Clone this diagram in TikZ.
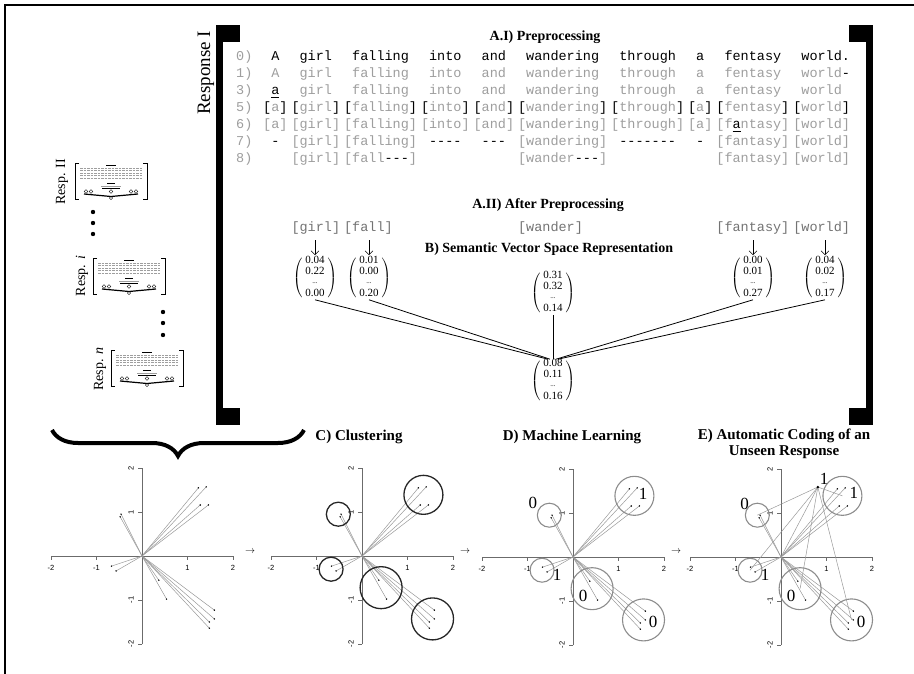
\documentclass[tikz,border=0pt]{standalone}
\usepackage{fontspec}
\setmainfont{Liberation Serif}
\setsansfont{Liberation Sans}
\setmonofont{Liberation Mono}
\usepackage{amsmath}
\usetikzlibrary{arrows.meta, positioning, decorations.pathreplacing}

\definecolor{gry}{gray}{0.62}
\definecolor{axgry}{gray}{0.42}
\definecolor{lngry}{gray}{0.6}
\definecolor{clgry}{gray}{0.55}

\newcommand{\K}[1]{\textcolor{black}{#1}}
\newcommand{\bk}[1]{\K{[}#1\K{]}}
\newcommand{\vvec}[3]{$\left(\begin{array}{@{\;}c@{\;}}\textrm{#1}\\\textrm{#2}\\\raisebox{2.5pt}{\textrm{\scriptsize...}}\\\textrm{#3}\end{array}\right)$}
% column starts of the tokens
\def\colx{{263,291.3,343.9,420.8,473.4,517.9,611,687.9,716.2,793.1}}
% word vectors of the responses (data units)
\newcommand{\ptlist}{1.24/1.55, 1.41/1.57, 1.28/1.16, 1.46/1.16, -0.46/0.95, -0.48/0.89, -0.67/-0.23, -0.57/-0.34, 0.37/-0.55, 0.54/-0.98, 1.59/-1.23, 1.59/-1.43, 1.48/-1.50, 1.48/-1.64}
% clusters: centre / radius
\newcommand{\cllist}{1.35/1.39/19.5, -0.52/0.95/12, -0.68/-0.30/12, 0.42/-0.72/21, 1.55/-1.43/21}

\begin{document}
\begin{tikzpicture}[x=1pt, y=-1pt,
    word/.style={font=\ttfamily\fontsize{13.5}{13.5}\selectfont, anchor=base west, inner sep=0pt, text=gry},
    wordin/.style={word, xshift=8.1pt},
    ttl/.style={font=\bfseries\fontsize{14}{16}\selectfont, inner sep=0pt},
    ttlb/.style={font=\bfseries\fontsize{15}{16}\selectfont, inner sep=0pt, align=center},
    vec/.style={font=\fontsize{11}{10.8}\selectfont, inner sep=0pt},
    tokarrow/.style={-{Straight Barb[length=4pt,width=8pt]}, line width=0.6pt, shorten <=5pt, shorten >=1pt},
    vline/.style={line width=0.8pt},
    axline/.style={axgry, line width=0.8pt},
    vecl/.style={lngry, line width=0.5pt},
    ticklab/.style={font=\sffamily\fontsize{7.5}{8}\selectfont, inner sep=0pt},
    clus/.style={line width=1.3pt, black!85},
    clusg/.style={line width=1.1pt, clgry},
    codelab/.style={font=\fontsize{17}{17}\selectfont, inner sep=0pt},
    resplab/.style={font=\fontsize{14}{14}\selectfont, rotate=90, inner sep=0pt},
    thumb/.pic={
      \draw[line width=0.9pt] (4,0) -- (0,0) -- (0,36) -- (4,36);
      \draw[line width=0.9pt] (68,0) -- (72,0) -- (72,36) -- (68,36);
      \draw[line width=0.5pt] (31,2) -- (41,2);
      \foreach \ry in {5,7.5,10,12.5,15}
        \draw[gry, line width=0.6pt, dash pattern=on 2.5pt off 1pt] (5,\ry) -- (67,\ry);
      \draw[line width=0.5pt] (32,20) -- (40,20);
      \draw[gry, line width=0.4pt] (26,23) -- (46,23);
      \draw[line width=0.5pt] (27,25.5) -- (45,25.5);
      \foreach \vx in {11,16,56,61} \draw[line width=0.4pt] (\vx,28.5) circle (1.8);
      \draw[line width=0.4pt] (36,28.5) circle (1.8);
      \draw[line width=1.2pt] (9,31) -- (36,33.5) -- (63,31);
      \draw[line width=0.4pt] (36,35) circle (1.6);
    },
    plotaxes/.pic={
      \draw[axline] (-2,0) -- (2,0);
      \draw[axline] (0,-2) -- (0,2);
      \foreach \tv in {-2,-1,1,2}{
        \draw[axline] (\tv,0) -- ++(0,-4pt);
        \node[ticklab] at ([yshift=-12pt]\tv,0) {\tv};
        \draw[axline] (0,\tv) -- ++(-4pt,0);
        \node[ticklab, rotate=90] at ([xshift=-11pt]0,\tv) {\tv};
      }
    }
]
\useasboundingbox (0,0) rectangle (914,674);
\draw[line width=2pt] (5,674) -- (5,5) -- (914,5);

% Response I bracket
\fill (216,25) rectangle (240,42);
\fill (216,25) rectangle (223,425);
\fill (216,408) rectangle (240,425);
\fill (849,25) rectangle (873,42);
\fill (866,25) rectangle (873,425);
\fill (849,408) rectangle (873,425);
\node[font=\fontsize{19}{19}\selectfont, rotate=90, inner sep=0pt] (respI) at (206,73) {Response I};

% A.I) preprocessing steps
\node[ttl] (tA1) at (545,37) {A.I) Preprocessing};
\foreach \lab/\yy in {0/61,1/78,3/95,5/112,6/129,7/146,8/163}
  \node[word] (lab\lab) at (236,\yy) {\lab)};
\foreach \tk [count=\kk] in {A,girl,falling,into,and,wandering,through,a,fentasy,world.}{
  \pgfmathsetmacro{\cx}{\colx[\kk-1]}
  \node[wordin, text=black] (r0-\kk) at (\cx,61) {\tk};
}
\foreach \tk [count=\kk] in {A,girl,falling,into,and,wandering,through,a,fentasy,world\K{-}}{
  \pgfmathsetmacro{\cx}{\colx[\kk-1]}
  \node[wordin] (r1-\kk) at (\cx,78) {\tk};
}
\foreach \tk [count=\kk] in {\K{\underline{a}},girl,falling,into,and,wandering,through,a,fentasy,world}{
  \pgfmathsetmacro{\cx}{\colx[\kk-1]}
  \node[wordin] (r3-\kk) at (\cx,95) {\tk};
}
\foreach \tk [count=\kk] in {\bk{a},\bk{girl},\bk{falling},\bk{into},\bk{and},\bk{wandering},\bk{through},\bk{a},\bk{fentasy},\bk{world}}{
  \pgfmathsetmacro{\cx}{\colx[\kk-1]}
  \node[word] (r5-\kk) at (\cx,112) {\tk};
}
\foreach \tk [count=\kk] in {{[a]},{[girl]},{[falling]},{[into]},{[and]},{[wandering]},{[through]},{[a]},{[f\K{\underline{a}}ntasy]},{[world]}}{
  \pgfmathsetmacro{\cx}{\colx[\kk-1]}
  \node[word] (r6-\kk) at (\cx,129) {\tk};
}
\foreach \kk/\tk in {1/-,4/----,5/---,7/-------,8/-}{
  \pgfmathsetmacro{\cx}{\colx[\kk-1]}
  \node[wordin, text=black] (r7-\kk) at (\cx,146) {\tk};
}
\foreach \kk/\tk in {2/{[girl]},3/{[falling]},6/{[wandering]},9/{[fantasy]},10/{[world]}}{
  \pgfmathsetmacro{\cx}{\colx[\kk-1]}
  \node[word] (r7-\kk) at (\cx,146) {\tk};
}
\foreach \kk/\tk in {2/{[girl]},3/{[fall\K{---}]},6/{[wander\K{---}]},9/{[fantasy]},10/{[world]}}{
  \pgfmathsetmacro{\cx}{\colx[\kk-1]}
  \node[word] (r8-\kk) at (\cx,163) {\tk};
}

% A.II) after preprocessing
\node[ttl] (tA2) at (548,205) {A.II) After Preprocessing};
\foreach \kk/\tk in {2/{[girl]},3/{[fall]},6/{[wander]},9/{[fantasy]},10/{[world]}}{
  \pgfmathsetmacro{\cx}{\colx[\kk-1]}
  \node[word, text=black!55] (a\kk) at (\cx,232) {\tk};
}

% B) semantic vector space
\node[ttl] (tB) at (549,249) {B) Semantic Vector Space Representation};
\node[vec] (v1) at (315,278) {\vvec{0.04}{0.22}{0.00}};
\node[vec] (v2) at (369,278) {\vvec{0.01}{0.00}{0.20}};
\node[vec] (v3) at (553,293) {\vvec{0.31}{0.32}{0.14}};
\node[vec] (v4) at (753,278) {\vvec{0.00}{0.01}{0.27}};
\node[vec] (v5) at (825,278) {\vvec{0.04}{0.02}{0.17}};
\node[vec] (vr) at (553,381) {\vvec{0.08}{0.11}{0.16}};
\foreach \kk/\vv in {2/1,3/2,9/4,10/5}
  \draw[tokarrow] (a\kk.south -| v\vv.north) -- (v\vv.north);
\foreach \vv/\dx in {1/-5,2/-3,3/0,4/3,5/5}
  \draw[vline] (v\vv.south) -- ([xshift=\dx pt]vr.north);

% other responses
\pic at (75,163) {thumb};
\pic at (93,258) {thumb};
\pic at (111,350) {thumb};
\node[resplab] (resp2) at (62,182) {Resp. II};
\node[resplab] (respi) at (82,276) {Resp. \textit{i}};
\node[resplab] (respn) at (100,369) {Resp. \textit{n}};
\foreach \ry in {212,223,234} \fill (93,\ry) circle (2.2);
\foreach \ry in {312,323,335} \fill (163,\ry) circle (2.2);
\draw[decorate, decoration={brace, amplitude=26pt, mirror}, line width=4pt] (52,430) -- (304,430);

% titles of the plots
\node[ttlb] (tC) at (359,437) {C) Clustering};
\node[ttlb] (tD) at (572,437) {D) Machine Learning};
\node[ttlb] (tE) at (784,444) {E) Automatic Coding of an\\Unseen Response};
\node[font=\fontsize{10}{10}\selectfont] (arr1) at (250,552) {$\rightarrow$};
\node[font=\fontsize{10}{10}\selectfont] (arr2) at (465,552) {$\rightarrow$};
\node[font=\fontsize{10}{10}\selectfont] (arr3) at (676,552) {$\rightarrow$};

% plot of the responses
\begin{scope}[shift={(142,556)}, x=45.5pt, y=44pt]
  \pic {plotaxes};
  \foreach \px/\py in \ptlist {\draw[vecl] (0,0) -- (\px,\py); \fill (\px,\py) circle[radius=0.8pt];}
\end{scope}

% C) clustering
\begin{scope}[shift={(362,556)}, x=45.5pt, y=44pt]
  \pic {plotaxes};
  \foreach \px/\py in \ptlist {\draw[vecl] (0,0) -- (\px,\py); \fill (\px,\py) circle[radius=0.8pt];}
  \foreach \cx/\cy/\crad in \cllist \draw[clus] (\cx,\cy) circle[radius=\crad pt];
\end{scope}

% D) machine learning
\begin{scope}[shift={(573,557)}, x=45.5pt, y=44pt]
  \pic {plotaxes};
  \foreach \px/\py in \ptlist {\draw[vecl] (0,0) -- (\px,\py); \fill (\px,\py) circle[radius=0.8pt];}
  \foreach \cx/\cy/\crad in \cllist \draw[clusg] (\cx,\cy) circle[radius=\crad pt];
  \node[codelab] (d1) at (-0.88,1.23) {0};
  \node[codelab] (d2) at (1.54,1.43) {1};
  \node[codelab] (d3) at (-0.35,-0.41) {1};
  \node[codelab] (d4) at (0.22,-0.89) {0};
  \node[codelab] (d5) at (1.76,-1.48) {0};
\end{scope}

% E) automatic coding
\begin{scope}[shift={(781,557)}, x=45.5pt, y=44pt]
  \pic {plotaxes};
  \foreach \px/\py in \ptlist {\draw[vecl] (0,0) -- (\px,\py); \fill (\px,\py) circle[radius=0.8pt];}
  \foreach \cx/\cy/\crad in \cllist {
    \draw[clusg] (\cx,\cy) circle[radius=\crad pt];
    \draw[vecl] (0.81,1.59) -- (\cx,\cy);
  }
  \draw[vecl] (0,0) -- (0.81,1.59);
  \fill (0.81,1.59) circle[radius=1.4pt];
  \node[codelab] (e0) at (0.95,1.78) {1};
  \node[codelab] (e1) at (-0.8,1.21) {0};
  \node[codelab] (e2) at (1.6,1.45) {1};
  \node[codelab] (e3) at (-0.35,-0.41) {1};
  \node[codelab] (e4) at (0.22,-0.89) {0};
  \node[codelab] (e5) at (1.76,-1.48) {0};
\end{scope}
\end{tikzpicture}
\end{document}
